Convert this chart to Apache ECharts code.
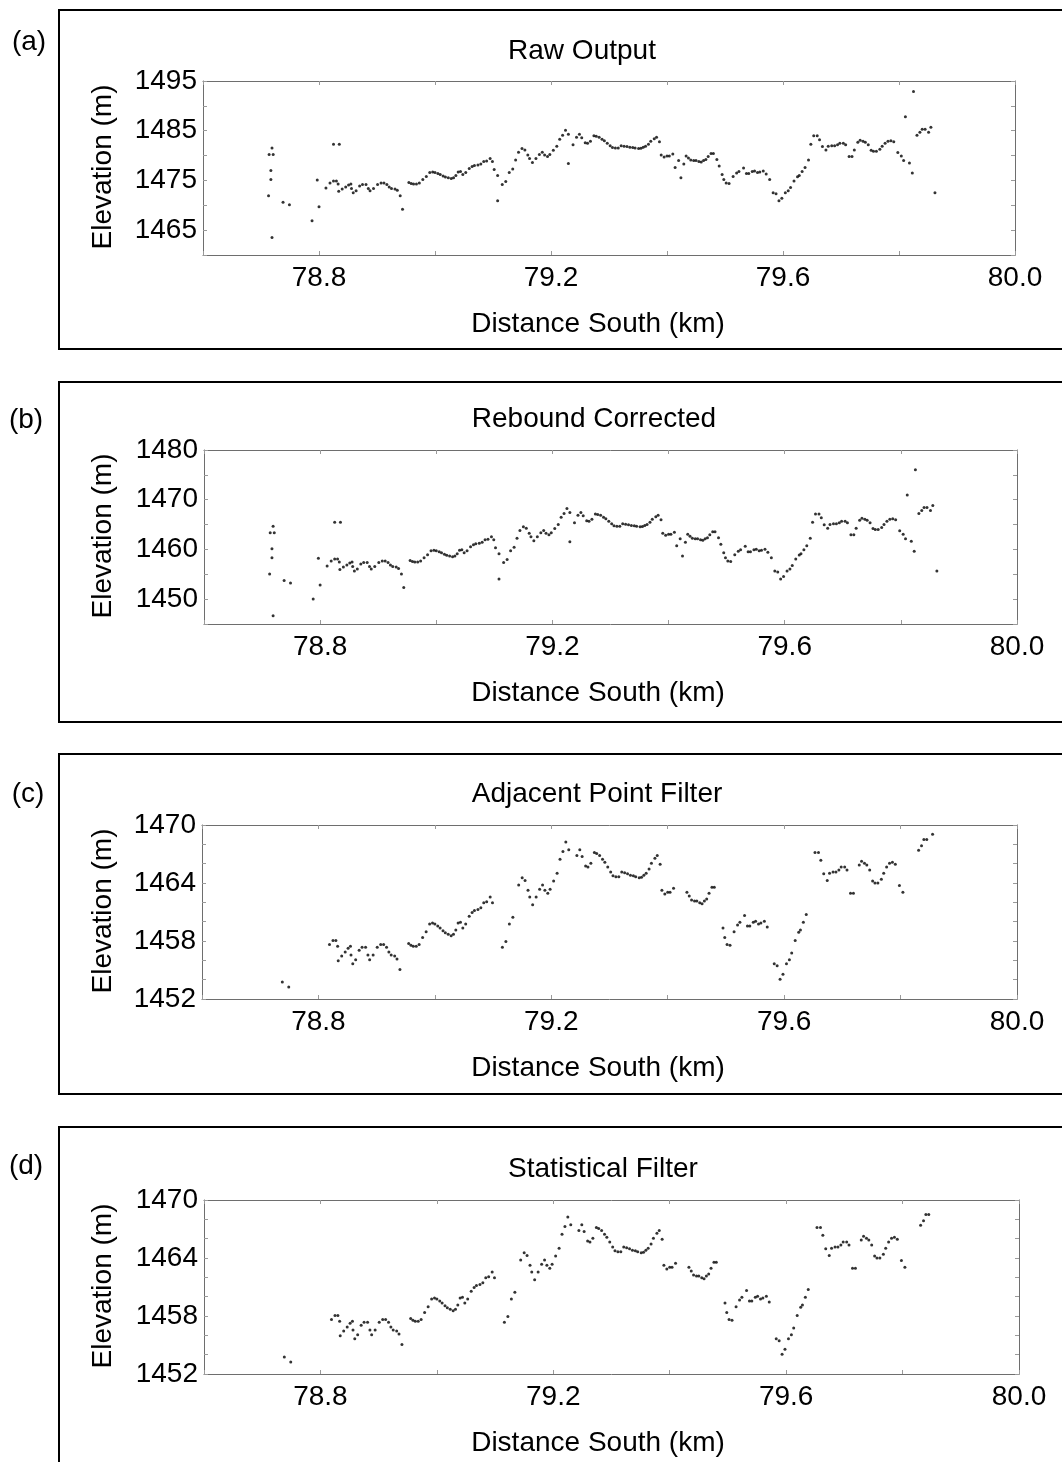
<!DOCTYPE html>
<html>
<head>
<meta charset="utf-8">
<title>Elevation profiles</title>
<script src="https://cdn.jsdelivr.net/npm/echarts@6/dist/echarts.min.js"></script>
<style>
  html, body { margin: 0; padding: 0; background: #fff; }
  #chart { width: 1062px; height: 1462px; }
</style>
</head>
<body>
<div id="chart"></div>
<script>
// distance along track (km), same samples in every panel
const distanceKm = [
  78.713, 78.714, 78.717, 78.717, 78.719, 78.719, 78.721, 78.738, 78.749, 78.788,
  78.797, 78.800, 78.812, 78.819, 78.825, 78.825, 78.830, 78.833, 78.835, 78.834,
  78.840, 78.846, 78.851, 78.855, 78.856, 78.859, 78.864, 78.870, 78.875, 78.881,
  78.885, 78.888, 78.894, 78.901, 78.907, 78.912, 78.917, 78.921, 78.925, 78.931,
  78.935, 78.940, 78.944, 78.955, 78.959, 78.963, 78.968, 78.973, 78.979, 78.985,
  78.991, 78.996, 79.000, 79.005, 79.009, 79.014, 79.018, 79.023, 79.028, 79.032,
  79.036, 79.040, 79.044, 79.048, 79.053, 79.059, 79.064, 79.068, 79.074, 79.079,
  79.084, 79.089, 79.095, 79.099, 79.102, 79.108, 79.108, 79.116, 79.122, 79.128,
  79.134, 79.139, 79.144, 79.150, 79.155, 79.160, 79.163, 79.168, 79.174, 79.180,
  79.185, 79.189, 79.194, 79.198, 79.204, 79.210, 79.215, 79.220, 79.225, 79.230,
  79.230, 79.238, 79.244, 79.249, 79.253, 79.259, 79.263, 79.268, 79.274, 79.278,
  79.283, 79.288, 79.292, 79.297, 79.302, 79.306, 79.311, 79.316, 79.321, 79.326,
  79.331, 79.336, 79.341, 79.345, 79.351, 79.355, 79.359, 79.363, 79.368, 79.372,
  79.378, 79.382, 79.387, 79.390, 79.395, 79.400, 79.404, 79.410, 79.414, 79.420,
  79.424, 79.429, 79.433, 79.437, 79.441, 79.446, 79.450, 79.455, 79.459, 79.463,
  79.467, 79.471, 79.476, 79.480, 79.486, 79.490, 79.495, 79.498, 79.502, 79.507,
  79.514, 79.520, 79.524, 79.532, 79.537, 79.541, 79.547, 79.551, 79.556, 79.560,
  79.566, 79.571, 79.577, 79.583, 79.588, 79.593, 79.598, 79.604, 79.609, 79.613,
  79.619, 79.625, 79.628, 79.633, 79.638, 79.644, 79.648, 79.653, 79.659, 79.663,
  79.668, 79.674, 79.678, 79.684, 79.689, 79.694, 79.698, 79.704, 79.708, 79.714,
  79.719, 79.723, 79.729, 79.733, 79.738, 79.742, 79.747, 79.752, 79.756, 79.761,
  79.767, 79.771, 79.776, 79.781, 79.786, 79.791, 79.798, 79.804, 79.808, 79.811,
  79.818, 79.823, 79.825, 79.831, 79.836, 79.840, 79.845, 79.851, 79.855, 79.862
];

// (a) raw output elevation (m)
const elevRaw = [
  1471.9, 1480.2, 1477.0, 1475.2, 1481.5, 1463.5, 1480.2, 1470.6, 1470.1, 1466.9,
  1475.1, 1469.7, 1473.5, 1474.5, 1482.3, 1474.9, 1474.9, 1474.3, 1482.3, 1472.8,
  1473.3, 1473.7, 1474.1, 1474.3, 1473.4, 1472.5, 1472.9, 1473.9, 1474.2, 1474.2,
  1473.4, 1472.9, 1473.4, 1474.2, 1474.5, 1474.5, 1474.2, 1473.7, 1473.4, 1473.3,
  1473.0, 1471.9, 1469.2, 1474.6, 1474.4, 1474.3, 1474.3, 1474.5, 1475.2, 1475.8,
  1476.6, 1476.7, 1476.6, 1476.4, 1476.2, 1475.9, 1475.7, 1475.55, 1475.4, 1475.55,
  1476.0, 1476.7, 1476.8, 1476.2, 1476.6, 1477.4, 1477.8, 1478.0, 1478.1, 1478.3,
  1478.8, 1478.9, 1479.4, 1478.8, 1477.2, 1476.0, 1470.9, 1474.2, 1474.8, 1476.6,
  1477.3, 1479.1, 1480.65, 1481.4, 1481.1, 1480.1, 1479.4, 1478.6, 1479.4, 1480.2,
  1480.65, 1480.1, 1479.8, 1480.2, 1481.05, 1481.85, 1483.3, 1484.1, 1485.1, 1484.3,
  1478.4, 1482.2, 1483.7, 1484.3, 1483.6, 1482.6, 1482.5, 1482.9, 1484.0, 1483.9,
  1483.7, 1483.3, 1483.0, 1482.5, 1482.0, 1481.6, 1481.5, 1481.5, 1482.0, 1481.9,
  1481.8, 1481.65, 1481.6, 1481.5, 1481.4, 1481.45, 1481.65, 1481.85, 1482.3, 1482.9,
  1483.4, 1483.7, 1482.8, 1480.1, 1479.7, 1479.9, 1479.9, 1480.3, 1477.6, 1479.0,
  1475.55, 1478.3, 1479.9, 1479.5, 1479.1, 1479.0, 1479.0, 1478.8, 1478.7, 1479.0,
  1479.2, 1479.8, 1480.4, 1480.4, 1479.2, 1477.9, 1476.2, 1475.2, 1474.5, 1474.4,
  1475.8, 1476.5, 1476.8, 1477.5, 1476.4, 1476.4, 1476.8, 1476.9, 1476.6, 1476.7,
  1476.9, 1476.3, 1475.2, 1472.5, 1472.3, 1470.9, 1471.4, 1472.5, 1472.9, 1473.6,
  1474.9, 1475.75, 1476.0, 1476.8, 1477.6, 1479.1, 1482.3, 1484.0, 1484.0, 1483.2,
  1481.8, 1481.1, 1481.85, 1482.0, 1482.0, 1482.2, 1482.5, 1482.5, 1482.2, 1479.8,
  1479.8, 1481.1, 1482.7, 1483.1, 1482.9, 1482.7, 1482.2, 1481.05, 1480.85, 1480.85,
  1481.25, 1481.85, 1482.5, 1482.9, 1483.0, 1482.8, 1480.6, 1479.9, 1479.0, 1487.8,
  1478.5, 1476.5, 1492.9, 1484.1, 1484.7, 1485.3, 1485.3, 1484.7, 1485.7, 1472.5
];

// (b) rebound corrected elevation (m)
const elevRebound = [
  1455.05, 1463.35, 1460.15, 1458.35, 1464.65, 1446.65, 1463.35, 1453.75, 1453.25, 1450.05,
  1458.25, 1452.85, 1456.65, 1457.65, 1465.45, 1458.05, 1458.05, 1457.45, 1465.45, 1455.95,
  1456.45, 1456.85, 1457.25, 1457.45, 1456.55, 1455.65, 1456.05, 1457.05, 1457.35, 1457.35,
  1456.55, 1456.05, 1456.55, 1457.35, 1457.65, 1457.65, 1457.35, 1456.85, 1456.55, 1456.45,
  1456.15, 1455.05, 1452.35, 1457.75, 1457.55, 1457.45, 1457.45, 1457.65, 1458.35, 1458.95,
  1459.75, 1459.85, 1459.75, 1459.55, 1459.35, 1459.05, 1458.85, 1458.7, 1458.55, 1458.7,
  1459.15, 1459.85, 1459.95, 1459.35, 1459.75, 1460.55, 1460.95, 1461.15, 1461.25, 1461.45,
  1461.95, 1462.05, 1462.55, 1461.95, 1460.35, 1459.15, 1454.05, 1457.35, 1457.95, 1459.75,
  1460.45, 1462.25, 1463.8, 1464.55, 1464.25, 1463.25, 1462.55, 1461.75, 1462.55, 1463.35,
  1463.8, 1463.25, 1462.95, 1463.35, 1464.2, 1465.0, 1466.45, 1467.25, 1468.25, 1467.45,
  1461.55, 1465.35, 1466.85, 1467.45, 1466.75, 1465.75, 1465.65, 1466.05, 1467.15, 1467.05,
  1466.85, 1466.45, 1466.15, 1465.65, 1465.15, 1464.75, 1464.65, 1464.65, 1465.15, 1465.05,
  1464.95, 1464.8, 1464.75, 1464.65, 1464.55, 1464.6, 1464.8, 1465.0, 1465.45, 1466.05,
  1466.55, 1466.85, 1465.95, 1463.25, 1462.85, 1463.05, 1463.05, 1463.45, 1460.75, 1462.15,
  1458.7, 1461.45, 1463.05, 1462.65, 1462.25, 1462.15, 1462.15, 1461.95, 1461.85, 1462.15,
  1462.35, 1462.95, 1463.55, 1463.55, 1462.35, 1461.05, 1459.35, 1458.35, 1457.65, 1457.55,
  1458.95, 1459.65, 1459.95, 1460.65, 1459.55, 1459.55, 1459.95, 1460.05, 1459.75, 1459.85,
  1460.05, 1459.45, 1458.35, 1455.65, 1455.45, 1454.05, 1454.55, 1455.65, 1456.05, 1456.75,
  1458.05, 1458.9, 1459.15, 1459.95, 1460.75, 1462.25, 1465.45, 1467.15, 1467.15, 1466.35,
  1464.95, 1464.25, 1465.0, 1465.15, 1465.15, 1465.35, 1465.65, 1465.65, 1465.35, 1462.95,
  1462.95, 1464.25, 1465.85, 1466.25, 1466.05, 1465.85, 1465.35, 1464.2, 1464.0, 1464.0,
  1464.4, 1465.0, 1465.65, 1466.05, 1466.15, 1465.95, 1463.75, 1463.05, 1462.15, 1470.95,
  1461.65, 1459.65, 1476.05, 1467.25, 1467.85, 1468.45, 1468.45, 1467.85, 1468.85, 1455.65
];

// (c) after adjacent point filter, null = point removed
const elevAdjacent = [
  null, null, null, null, null, null, null, 1453.75, 1453.25, null,
  null, null, null, 1457.65, null, 1458.05, 1458.05, 1457.45, null, 1455.95,
  1456.45, 1456.85, 1457.25, 1457.45, 1456.55, 1455.65, 1456.05, 1457.05, 1457.35, 1457.35,
  1456.55, 1456.05, 1456.55, 1457.35, 1457.65, 1457.65, 1457.35, 1456.85, 1456.55, 1456.45,
  1456.15, 1455.05, null, 1457.75, 1457.55, 1457.45, 1457.45, 1457.65, 1458.35, 1458.95,
  1459.75, 1459.85, 1459.75, 1459.55, 1459.35, 1459.05, 1458.85, 1458.7, 1458.55, 1458.7,
  1459.15, 1459.85, 1459.95, 1459.35, 1459.75, 1460.55, 1460.95, 1461.15, 1461.25, 1461.45,
  1461.95, 1462.05, 1462.55, 1461.95, null, null, null, 1457.35, 1457.95, 1459.75,
  1460.45, null, 1463.8, 1464.55, 1464.25, 1463.25, 1462.55, 1461.75, 1462.55, 1463.35,
  1463.8, 1463.25, 1462.95, 1463.35, 1464.2, 1465.0, 1466.45, 1467.25, 1468.25, 1467.45,
  null, null, 1466.85, 1467.45, 1466.75, 1465.75, 1465.65, 1466.05, 1467.15, 1467.05,
  1466.85, 1466.45, 1466.15, 1465.65, 1465.15, 1464.75, 1464.65, 1464.65, 1465.15, 1465.05,
  1464.95, 1464.8, 1464.75, 1464.65, 1464.55, 1464.6, 1464.8, 1465.0, 1465.45, 1466.05,
  1466.55, 1466.85, 1465.95, 1463.25, 1462.85, 1463.05, 1463.05, 1463.45, null, null,
  null, null, 1463.05, 1462.65, 1462.25, 1462.15, 1462.15, 1461.95, 1461.85, 1462.15,
  1462.35, 1462.95, 1463.55, 1463.55, null, null, 1459.35, 1458.35, 1457.65, 1457.55,
  1458.95, 1459.65, 1459.95, 1460.65, 1459.55, 1459.55, 1459.95, 1460.05, 1459.75, 1459.85,
  1460.05, 1459.45, null, 1455.65, 1455.45, 1454.05, 1454.55, 1455.65, 1456.05, 1456.75,
  1458.05, 1458.9, 1459.15, 1459.95, 1460.75, null, null, 1467.15, 1467.15, 1466.35,
  1464.95, 1464.25, 1465.0, 1465.15, 1465.15, 1465.35, 1465.65, 1465.65, 1465.35, 1462.95,
  1462.95, null, 1465.85, 1466.25, 1466.05, 1465.85, 1465.35, 1464.2, 1464.0, 1464.0,
  1464.4, 1465.0, 1465.65, 1466.05, 1466.15, 1465.95, 1463.75, 1463.05, null, null,
  null, null, null, 1467.4, 1467.85, 1468.5, 1468.5, null, 1469.05, null
];

// (d) after statistical filter, null = point removed
const elevStatistical = [
  null, null, null, null, null, null, null, 1453.75, 1453.25, null,
  null, null, null, 1457.65, null, 1458.05, 1458.05, 1457.45, null, 1455.95,
  1456.45, 1456.85, 1457.25, 1457.45, 1456.55, 1455.65, 1456.05, 1457.05, 1457.35, 1457.35,
  1456.55, 1456.05, 1456.55, 1457.35, 1457.65, 1457.65, 1457.35, 1456.85, 1456.55, 1456.45,
  1456.15, 1455.05, null, 1457.75, 1457.55, 1457.45, 1457.45, 1457.65, 1458.35, 1458.95,
  1459.75, 1459.85, 1459.75, 1459.55, 1459.35, 1459.05, 1458.85, 1458.7, 1458.55, 1458.7,
  1459.15, 1459.85, 1459.95, 1459.35, 1459.75, 1460.55, 1460.95, 1461.15, 1461.25, 1461.45,
  1461.95, 1462.05, 1462.55, 1461.95, null, null, null, 1457.35, 1457.95, 1459.75,
  1460.45, null, 1463.8, 1464.55, 1464.25, 1463.25, 1462.55, 1461.75, 1462.55, 1463.35,
  1463.8, 1463.25, 1462.95, 1463.35, 1464.2, 1465.0, 1466.45, 1467.25, 1468.25, 1467.45,
  null, null, 1466.85, 1467.45, 1466.75, 1465.75, 1465.65, 1466.05, 1467.15, 1467.05,
  1466.85, 1466.45, 1466.15, 1465.65, 1465.15, 1464.75, 1464.65, 1464.65, 1465.15, 1465.05,
  1464.95, 1464.8, 1464.75, 1464.65, 1464.55, 1464.6, 1464.8, 1465.0, 1465.45, 1466.05,
  1466.55, 1466.85, 1465.95, 1463.25, 1462.85, 1463.05, 1463.05, 1463.45, null, null,
  null, null, 1463.05, 1462.65, 1462.25, 1462.15, 1462.15, 1461.95, 1461.85, 1462.15,
  1462.35, 1462.95, 1463.55, 1463.55, null, null, 1459.35, 1458.35, 1457.65, 1457.55,
  1458.95, 1459.65, 1459.95, 1460.65, 1459.55, 1459.55, 1459.95, 1460.05, 1459.75, 1459.85,
  1460.05, 1459.45, null, 1455.65, 1455.45, 1454.05, 1454.55, 1455.65, 1456.05, 1456.75,
  1458.05, 1458.9, 1459.15, 1459.95, 1460.75, null, null, 1467.15, 1467.15, 1466.35,
  1464.95, 1464.25, 1465.0, 1465.15, 1465.15, 1465.35, 1465.65, 1465.65, 1465.35, 1462.95,
  1462.95, null, 1465.85, 1466.25, 1466.05, 1465.85, 1465.35, 1464.2, 1464.0, 1464.0,
  1464.4, 1465.0, 1465.65, 1466.05, 1466.15, 1465.95, 1463.75, 1463.05, null, null,
  null, null, null, 1467.4, 1467.85, 1468.5, 1468.5, null, null, null
];

const panelTitles = ['Raw Output', 'Rebound Corrected', 'Adjacent Point Filter', 'Statistical Filter'];
const panelTags = ['(a)', '(b)', '(c)', '(d)'];
const panelSeries = [elevRaw, elevRebound, elevAdjacent, elevStatistical];

// axis scales and labelled ticks
const xRange = [78.6, 80.0, 0.2];
const xLabelValues = [78.8, 79.2, 79.6, 80.0];
const yRanges = [[1460, 1495, 5], [1445, 1480, 5], [1452, 1470, 2], [1452, 1470, 2]];
const yLabelValues = [
  [1465, 1475, 1485, 1495],
  [1450, 1460, 1470, 1480],
  [1452, 1458, 1464, 1470],
  [1452, 1458, 1464, 1470]
];

const FONT = '"Liberation Sans", Arial, Helvetica, sans-serif';
const frameColor = '#6e6e6e';
const tickColor = '#9a9a9a';

// panel placement on the page
const layout = [
  { box: [59, 10, 339], grid: [203, 81, 812, 174], tag: [29, 42], title: [582, 51] },
  { box: [59, 382, 340], grid: [204, 450, 813, 174], tag: [26, 420], title: [594, 419] },
  { box: [59, 754, 340], grid: [202, 825, 815, 174], tag: [28, 794], title: [597, 794] },
  { box: [59, 1127, 360], grid: [204, 1200, 815, 174], tag: [26, 1166], title: [603, 1169] }
];

function hasValue(list, v) {
  return list.some(t => Math.abs(t - v) < 1e-6);
}

const chart = echarts.init(document.getElementById('chart'), null, { renderer: 'canvas' });

const grids = [], xAxes = [], yAxes = [], series = [], graphics = [];

layout.forEach((p, i) => {
  const [gl, gt, gw, gh] = p.grid;
  grids.push({ left: gl, top: gt, width: gw, height: gh, show: false, outerBoundsMode: 'none' });

  const tickBase = {
    show: true, inside: true, length: 4,
    lineStyle: { color: tickColor, width: 1 }
  };
  const lineBase = { show: true, onZero: false, lineStyle: { color: frameColor, width: 1 } };

  xAxes.push({
    gridIndex: i, type: 'value', position: 'bottom',
    min: xRange[0], max: xRange[1], interval: xRange[2],
    axisLine: lineBase, axisTick: tickBase, splitLine: { show: false },
    axisLabel: {
      color: '#000', fontSize: 28, fontFamily: FONT, margin: 9,
      showMinLabel: true, showMaxLabel: true,
      formatter: v => hasValue(xLabelValues, v) ? v.toFixed(1) : ''
    }
  });
  xAxes.push({
    gridIndex: i, type: 'value', position: 'top',
    min: xRange[0], max: xRange[1], interval: xRange[2],
    axisLine: lineBase, axisTick: tickBase, splitLine: { show: false },
    axisLabel: { show: false }
  });

  const [ymin, ymax, ystep] = yRanges[i];
  const labs = yLabelValues[i];
  yAxes.push({
    gridIndex: i, type: 'value', position: 'left',
    min: ymin, max: ymax, interval: ystep,
    axisLine: lineBase, axisTick: tickBase, splitLine: { show: false },
    axisLabel: {
      color: '#000', fontSize: 28, fontFamily: FONT, margin: 6,
      showMinLabel: true, showMaxLabel: true,
      formatter: v => hasValue(labs, v) ? String(Math.round(v)) : ''
    }
  });
  yAxes.push({
    gridIndex: i, type: 'value', position: 'right',
    min: ymin, max: ymax, interval: ystep,
    axisLine: lineBase, axisTick: tickBase, splitLine: { show: false },
    axisLabel: { show: false }
  });

  const ys = panelSeries[i];
  const pts = distanceKm.map((d, k) => [d, ys[k]]).filter(pt => pt[1] != null);
  series.push({
    type: 'scatter',
    xAxisIndex: i * 2, yAxisIndex: i * 2,
    symbol: 'circle', symbolSize: 3,
    itemStyle: { color: '#000' },
    silent: true,
    data: pts
  });

  // outer frame of the panel
  graphics.push({
    type: 'rect', z: -1,
    shape: { x: p.box[0], y: p.box[1], width: 1010, height: p.box[2] },
    style: { fill: 'none', stroke: '#000', lineWidth: 2 }
  });
  graphics.push({
    type: 'text', x: p.tag[0], y: p.tag[1],
    style: { text: panelTags[i], font: '28px ' + FONT, fill: '#000',
      align: 'center', verticalAlign: 'middle', textAlign: 'center', textVerticalAlign: 'middle' }
  });
  graphics.push({
    type: 'text', x: p.title[0], y: p.title[1],
    style: { text: panelTitles[i], font: '28px ' + FONT, fill: '#000',
      align: 'center', verticalAlign: 'middle', textAlign: 'center', textVerticalAlign: 'middle' }
  });
  graphics.push({
    type: 'text', x: 598, y: gt + gh + 69,
    style: { text: 'Distance South (km)', font: '28px ' + FONT, fill: '#000',
      align: 'center', verticalAlign: 'middle', textAlign: 'center', textVerticalAlign: 'middle' }
  });
  graphics.push({
    type: 'text', x: 103, y: gt + gh / 2 - 1, rotation: Math.PI / 2,
    style: { text: 'Elevation (m)', font: '28px ' + FONT, fill: '#000',
      align: 'center', verticalAlign: 'middle', textAlign: 'center', textVerticalAlign: 'middle' }
  });
});

chart.setOption({
  animation: false,
  backgroundColor: '#fff',
  grid: grids,
  xAxis: xAxes,
  yAxis: yAxes,
  series: series,
  graphic: graphics
});
</script>
</body>
</html>
